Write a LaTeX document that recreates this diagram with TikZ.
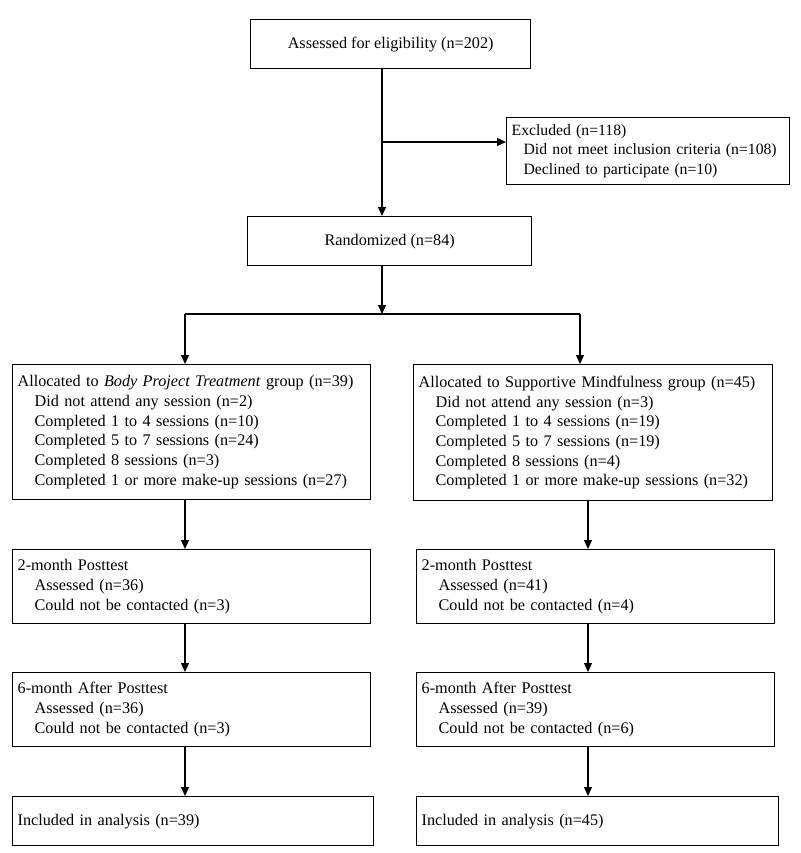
\documentclass[tikz,border=0pt]{standalone}
\usepackage{fontspec}
\setmainfont{Liberation Serif}
\usetikzlibrary{positioning,arrows.meta}

\newcommand{\ind}{\hspace*{17pt}}

\begin{document}
\begin{tikzpicture}
  [x=1pt, y=-1pt, line width=1.3pt,
   font=\fontsize{16.2}{19.7}\selectfont,
   every node/.style={draw, rectangle, inner xsep=5pt, inner ysep=0pt, anchor=north west},
   midbox/.style={align=center},
   sidebox/.style={align=left},
   arr/.style={-{Triangle[length=9pt,width=8pt]}}]

  \useasboundingbox (0,0) rectangle (800,853);

  % top of the chart
  \node[midbox, minimum width=280pt, minimum height=49pt] (assess) at (250,19) {Assessed for eligibility (n=202)};
  \node[sidebox, minimum width=283pt, minimum height=67pt, text width=277pt, inner xsep=3pt,
        font=\fontsize{15.7}{19.5}\selectfont] (excl) at (506,117)
     {\hspace*{2pt}Excluded (n=118)\\
      \hspace*{14pt}Did not meet inclusion criteria (n=108)\\
      \hspace*{14pt}Declined to participate (n=10)};
  \node[midbox, minimum width=284pt, minimum height=49pt] (rand) at (247,216) {Randomized (n=84)};

  % left arm
  \node[sidebox, minimum width=358pt, minimum height=135pt, text width=348pt] (allocL) at (12,364)
     {Allocated to \textit{Body Project Treatment} group (n=39)\\
      \ind Did not attend any session (n=2)\\
      \ind Completed 1 to 4 sessions (n=10)\\
      \ind Completed 5 to 7 sessions (n=24)\\
      \ind Completed 8 sessions (n=3)\\
      \ind Completed 1 or more make-up sessions (n=27)};
  \node[sidebox, minimum width=358pt, minimum height=74pt, text width=348pt] (postL) at (12,549)
     {2-month Posttest\\
      \ind Assessed (n=36)\\
      \ind Could not be contacted (n=3)};
  \node[sidebox, minimum width=358pt, minimum height=74pt, text width=348pt] (followL) at (12,672)
     {6-month After Posttest\\
      \ind Assessed (n=36)\\
      \ind Could not be contacted (n=3)};
  \node[sidebox, minimum width=361pt, minimum height=49pt, text width=351pt] (inclL) at (12,796)
     {Included in analysis (n=39)};

  % right arm
  \node[sidebox, minimum width=359pt, minimum height=136pt, text width=349pt] (allocR) at (413,364)
     {Allocated to Supportive Mindfulness group (n=45)\\
      \ind Did not attend any session (n=3)\\
      \ind Completed 1 to 4 sessions (n=19)\\
      \ind Completed 5 to 7 sessions (n=19)\\
      \ind Completed 8 sessions (n=4)\\
      \ind Completed 1 or more make-up sessions (n=32)};
  \node[sidebox, minimum width=358pt, minimum height=74pt, text width=348pt] (postR) at (416,549)
     {2-month Posttest\\
      \ind Assessed (n=41)\\
      \ind Could not be contacted (n=4)};
  \node[sidebox, minimum width=358pt, minimum height=74pt, text width=348pt] (followR) at (416,672)
     {6-month After Posttest\\
      \ind Assessed (n=39)\\
      \ind Could not be contacted (n=6)};
  \node[sidebox, minimum width=362pt, minimum height=49pt, text width=352pt] (inclR) at (416,796)
     {Included in analysis (n=45)};

  % connectors
  \coordinate (trunk) at (382,142);
  \coordinate (split) at (382,314);
  \coordinate (splitL) at (185,314);
  \coordinate (splitR) at (580,314);
  \coordinate (colR) at (588,314);

  \draw[arr] (assess.south -| trunk) -- (rand.north -| trunk);
  \draw[arr] (trunk) -- (trunk -| excl.west);
  \draw[arr] (rand.south -| split) -- (split);
  \draw (splitL) -- (splitR);
  \draw[arr] (splitL) -- (splitL |- allocL.north);
  \draw[arr] (splitR) -- (splitR |- allocR.north);

  \draw[arr] (allocL.south -| splitL) -- (postL.north -| splitL);
  \draw[arr] (postL.south -| splitL) -- (followL.north -| splitL);
  \draw[arr] (followL.south -| splitL) -- (inclL.north -| splitL);

  \draw[arr] (allocR.south -| colR) -- (postR.north -| colR);
  \draw[arr] (postR.south -| colR) -- (followR.north -| colR);
  \draw[arr] (followR.south -| colR) -- (inclR.north -| colR);
\end{tikzpicture}
\end{document}
